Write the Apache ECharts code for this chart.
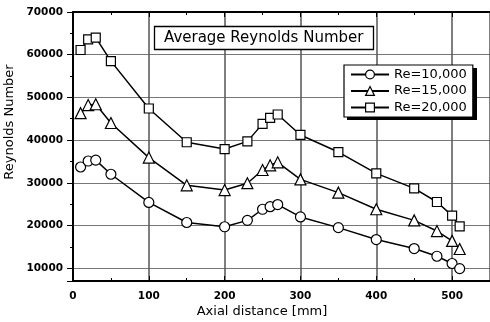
<!DOCTYPE html>
<html><head><meta charset="utf-8">
<script src="https://cdn.jsdelivr.net/npm/echarts@6/dist/echarts.min.js"></script>
<style>html,body{margin:0;padding:0;background:#fff}#c{width:490px;height:322px}</style>
</head><body><div id="c"></div>
<script>
const xs = [10,20,30,50,100,150,200,230,250,260,270,300,350,400,450,480,500,510];
const re10 = [33700,35100,35300,32000,25400,20700,19700,21200,23800,24400,24900,22000,19500,16700,14600,12800,11100,9900];
const re15 = [46300,48200,48400,44000,35900,29400,28300,29900,33000,34100,34800,30800,27700,23800,21200,18700,16400,14500];
const re20 = [61100,63600,64000,58500,47400,39500,37900,39700,43800,45200,46000,41200,37200,32200,28700,25500,22300,19800];
const seriesNames = ['Re=10,000','Re=15,000','Re=20,000'];
const symbols = ['circle','triangle','rect'];
const symbolSizes = [10,11,9];
const titleText = 'Average Reynolds Number';
const xName = 'Axial distance [mm]';
const yName = 'Reynolds Number';

const FONT = 'DejaVu Sans';
const chart = echarts.init(document.getElementById('c'), null, {renderer:'canvas'});
const data = [re10, re15, re20];
const series = data.map((vals, i) => ({
  name: seriesNames[i], type: 'line',
  data: xs.map((x, j) => [x, vals[j]]),
  symbol: symbols[i], symbolSize: symbolSizes[i],
  lineStyle: {color:'#000', width:1.5},
  itemStyle: {color:'#fff', borderColor:'#000', borderWidth:1.2},
  emphasis: {disabled:true}, animation:false, z: 5
}));
const plain = v => String(v);
chart.setOption({
  animation: false,
  grid: {left:73, top:12, right:0, bottom:41, containLabel:false},
  title: {
    text: titleText, left:154, top:26,
    padding:[4,10,4,10], backgroundColor:'#fff', borderColor:'#000', borderWidth:1.3,
    textStyle:{fontFamily:FONT, fontSize:15, fontWeight:'normal', color:'#000', lineHeight:16}
  },
  legend: {
    data: seriesNames, orient:'vertical', left:344, top:65, z:20,
    padding:[2.5,6,2.5,6], itemWidth:38, itemHeight:11, itemGap:2.5,
    backgroundColor:'#fff', borderColor:'#000', borderWidth:1.2,
    itemStyle:{borderWidth:1.2},
    textStyle:{fontFamily:FONT, fontSize:13, color:'#000', lineHeight:14}
  },
  xAxis: [{
    type:'value', min:0, max:550, interval:100, position:'bottom',
    axisLine:{show:true, onZero:false, lineStyle:{color:'#000', width:2}},
    axisTick:{show:true, inside:true, length:5, lineStyle:{color:'#000'}},
    minorTick:{show:true, splitNumber:2, length:3, lineStyle:{color:'#000'}},
    axisLabel:{fontFamily:FONT, fontSize:10.5, fontWeight:'bold', color:'#000', margin:10, showMaxLabel:false, formatter:plain},
    splitLine:{show:true, lineStyle:{color:'#555', width:1.5}}
  },{
    type:'value', min:0, max:550, interval:100, position:'top',
    axisLine:{show:true, onZero:false, lineStyle:{color:'#000', width:2}},
    axisTick:{show:true, inside:true, length:5, lineStyle:{color:'#000'}},
    minorTick:{show:true, splitNumber:2, length:3, lineStyle:{color:'#000'}},
    axisLabel:{show:false}, splitLine:{show:false}
  }],
  yAxis: [{
    type:'value', min:7000, max:70000, position:'left',
    axisLine:{show:true, onZero:false, lineStyle:{color:'#000', width:2}},
    axisTick:{show:true, inside:false, length:6, lineStyle:{color:'#000'}},
    minorTick:{show:true, splitNumber:2, length:3, lineStyle:{color:'#000'}},
    axisLabel:{fontFamily:FONT, fontSize:10.5, fontWeight:'bold', color:'#000', margin:10, showMinLabel:false, formatter:plain},
    splitLine:{show:true, lineStyle:{color:'#777', width:1}}
  },{
    type:'value', min:7000, max:70000, position:'right',
    axisLine:{show:false},
    axisTick:{show:true, inside:true, length:4, lineStyle:{color:'#000'}},
    minorTick:{show:true, splitNumber:2, length:3, lineStyle:{color:'#000'}},
    axisLabel:{show:false}, splitLine:{show:false}
  }],
  graphic: [
    {type:'rect', z:15, shape:{x:347, y:68, width:130, height:52}, style:{fill:'#000'}},
    {type:'text', x:10, y:122, rotation:Math.PI/2, style:{text:yName, font:'13px "DejaVu Sans"', fill:'#000', align:'center', verticalAlign:'middle'}},
    {type:'text', x:262, y:312, style:{text:xName, font:'13px "DejaVu Sans"', fill:'#000', align:'center', verticalAlign:'middle'}}
  ],
  series: series
});
</script></body></html>
